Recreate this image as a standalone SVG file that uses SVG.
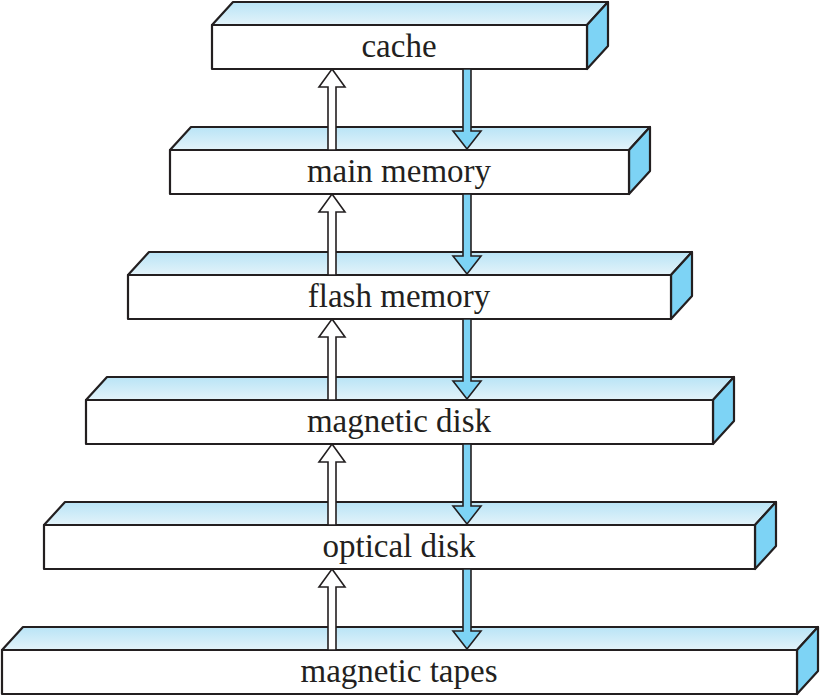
<svg xmlns="http://www.w3.org/2000/svg" width="820" height="696" viewBox="0 0 820 696">
<defs>
<linearGradient id="topg" x1="0" y1="0" x2="0" y2="1">
<stop offset="0" stop-color="#b9e4f6"/>
<stop offset="1" stop-color="#e3f3fa"/>
</linearGradient>
<style>
.front{fill:#ffffff;stroke:#231f20;stroke-width:2.2;stroke-linejoin:round}
.top{fill:url(#topg);stroke:#231f20;stroke-width:2.2;stroke-linejoin:round}
.side{fill:#7dd3f5;stroke:#231f20;stroke-width:2.2;stroke-linejoin:round}
.lbl{font-family:"Liberation Serif","Times New Roman",serif;font-size:33px;fill:#231f20;text-anchor:middle}
.up{fill:#ffffff;stroke:#231f20;stroke-width:1.6;stroke-linejoin:miter}
.down{fill:#7dd3f5;stroke:#231f20;stroke-width:1.6;stroke-linejoin:miter}
</style>
</defs>
<rect width="820" height="696" fill="#ffffff"/>
<g id="cache">
<polygon class="top" points="212,25 233,2 608,2 587,25"/>
<polygon class="side" points="587,25 608,2 608,46 587,69"/>
<rect class="front" x="212" y="25" width="375" height="44"/>
<text class="lbl" x="399" y="57">cache</text>
</g>
<g id="main-memory">
<polygon class="top" points="170,150 191,127 650,127 629,150"/>
<polygon class="side" points="629,150 650,127 650,171 629,194"/>
<rect class="front" x="170" y="150" width="459" height="44"/>
<text class="lbl" x="399" y="182">main memory</text>
</g>
<g id="flash-memory">
<polygon class="top" points="128,275 149,252 692,252 671,275"/>
<polygon class="side" points="671,275 692,252 692,296 671,319"/>
<rect class="front" x="128" y="275" width="543" height="44"/>
<text class="lbl" x="399" y="307">flash memory</text>
</g>
<g id="magnetic-disk">
<polygon class="top" points="86,400 107,377 734,377 713,400"/>
<polygon class="side" points="713,400 734,377 734,421 713,444"/>
<rect class="front" x="86" y="400" width="627" height="44"/>
<text class="lbl" x="399" y="432">magnetic disk</text>
</g>
<g id="optical-disk">
<polygon class="top" points="44,525 65,502 776,502 755,525"/>
<polygon class="side" points="755,525 776,502 776,546 755,569"/>
<rect class="front" x="44" y="525" width="711" height="44"/>
<text class="lbl" x="399" y="557">optical disk</text>
</g>
<g id="magnetic-tapes">
<polygon class="top" points="2,650 23,627 818,627 797,650"/>
<polygon class="side" points="797,650 818,627 818,671 797,694"/>
<rect class="front" x="2" y="650" width="795" height="44"/>
<text class="lbl" x="399" y="682">magnetic tapes</text>
</g>
<g id="connectors">
<polygon class="up" points="332,69 345,87 336,87 336,150 328,150 328,87 319,87"/>
<polygon class="down" points="463,69 471,69 471,131 481,131 467,149 453,131 463,131"/>
<polygon class="up" points="332,194 345,212 336,212 336,275 328,275 328,212 319,212"/>
<polygon class="down" points="463,194 471,194 471,256 481,256 467,274 453,256 463,256"/>
<polygon class="up" points="332,319 345,337 336,337 336,400 328,400 328,337 319,337"/>
<polygon class="down" points="463,319 471,319 471,381 481,381 467,399 453,381 463,381"/>
<polygon class="up" points="332,444 345,462 336,462 336,525 328,525 328,462 319,462"/>
<polygon class="down" points="463,444 471,444 471,506 481,506 467,524 453,506 463,506"/>
<polygon class="up" points="332,569 345,587 336,587 336,650 328,650 328,587 319,587"/>
<polygon class="down" points="463,569 471,569 471,631 481,631 467,649 453,631 463,631"/>
</g>
</svg>
